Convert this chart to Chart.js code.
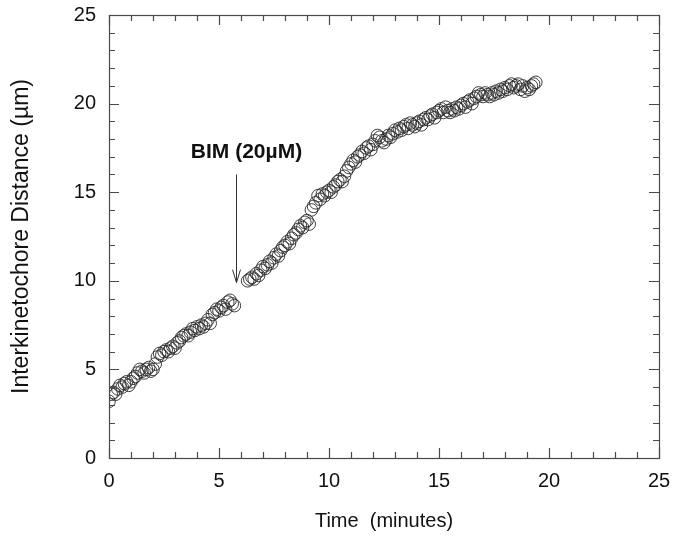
<!DOCTYPE html>
<html>
<head>
<meta charset="utf-8">
<script src="https://cdn.jsdelivr.net/npm/chart.js@4/dist/chart.umd.min.js"></script>
<style>
  html, body { margin: 0; padding: 0; background: #ffffff; }
  #wrap { width: 678px; height: 537px; position: relative; }
</style>
</head>
<body>
<div id="wrap"><canvas id="c" width="678" height="537"></canvas></div>
<script>
// ---- data ----
const timeMin = [
  0.0,0.1,0.2,0.3,0.4,0.5,0.6,0.7,0.8,0.9,
  1.0,1.1,1.2,1.3,1.4,1.5,1.6,1.7,1.8,1.9,
  2.0,2.1,2.2,2.3,2.4,2.5,2.6,2.7,2.8,2.9,
  3.0,3.1,3.2,3.3,3.4,3.5,3.6,3.7,3.8,3.9,
  4.0,4.1,4.2,4.3,4.4,4.5,4.6,4.7,4.8,4.9,
  5.0,5.1,5.2,5.3,5.4,5.5,5.6,5.7,
  6.3,6.4,6.5,6.6,6.7,6.8,6.9,
  7.0,7.1,7.2,7.3,7.4,7.5,7.6,7.7,7.8,7.9,
  8.0,8.1,8.2,8.3,8.4,8.5,8.6,8.7,8.8,8.9,
  9.0,9.1,9.2,9.3,9.4,9.5,9.6,9.7,9.8,9.9,
  10.0,10.1,10.2,10.3,10.4,10.5,10.6,10.7,10.8,10.9,
  11.0,11.1,11.2,11.3,11.4,11.5,11.6,11.7,11.8,11.9,
  12.0,12.1,12.2,12.3,12.4,12.5,12.6,12.7,12.8,12.9,
  13.0,13.1,13.2,13.3,13.4,13.5,13.6,13.7,13.8,13.9,
  14.0,14.1,14.2,14.3,14.4,14.5,14.6,14.7,14.8,14.9,
  15.0,15.1,15.2,15.3,15.4,15.5,15.6,15.7,15.8,15.9,
  16.0,16.1,16.2,16.3,16.4,16.5,16.6,16.7,16.8,16.9,
  17.0,17.1,17.2,17.3,17.4,17.5,17.6,17.7,17.8,17.9,
  18.0,18.1,18.2,18.3,18.4,18.5,18.6,18.7,18.8,18.9,
  19.0,19.1,19.2,19.3,19.4
];
const distanceUm = [
  3.2,3.6,3.7,3.6,3.9,4.1,4.0,4.2,4.3,4.1,
  4.3,4.5,4.6,4.8,5.0,4.9,4.8,5.0,5.1,4.9,
  5.0,5.3,5.7,5.9,5.8,6.0,6.1,6.0,6.2,6.3,
  6.2,6.5,6.6,6.8,6.9,7.0,6.9,7.1,7.3,7.2,
  7.4,7.3,7.5,7.4,7.6,7.8,7.6,8.1,8.2,8.4,
  8.3,8.5,8.6,8.4,8.8,8.9,8.7,8.6,
  10.0,10.1,10.2,10.1,10.4,10.3,10.6,
  10.8,10.7,10.9,11.1,11.0,11.3,11.5,11.4,11.7,11.9,
  12.0,12.2,12.1,12.4,12.6,12.7,12.9,13.1,13.0,13.3,
  13.4,13.2,14.0,14.2,14.4,14.8,14.6,14.9,14.8,15.0,
  15.1,15.0,15.3,15.4,15.6,15.7,15.6,15.9,16.2,16.4,
  16.6,16.8,16.7,17.0,17.1,17.3,17.2,17.5,17.6,17.4,
  17.7,17.9,18.2,18.1,17.9,17.8,18.0,18.2,18.1,18.3,
  18.5,18.4,18.6,18.5,18.7,18.8,18.6,18.9,18.8,18.7,
  18.9,19.0,18.8,19.1,19.2,19.1,19.3,19.4,19.2,19.5,
  19.6,19.7,19.5,19.8,19.6,19.5,19.7,19.6,19.8,19.7,
  19.9,20.0,19.8,20.1,20.2,20.0,20.3,20.4,20.6,20.5,
  20.4,20.6,20.5,20.4,20.6,20.5,20.7,20.6,20.8,20.7,
  20.9,20.8,21.0,21.1,20.9,21.0,21.1,20.8,21.0,20.7,
  20.9,20.8,21.0,21.1,21.2
];
const xTickLabels = [0, 5, 10, 15, 20, 25];
const yTickLabels = [0, 5, 10, 15, 20, 25];
const xMinorTicks = [0,1,2,3,4,5,6,7,8,9,10,11,12,13,14,15,16,17,18,19,20,21,22,23,24,25];
const yMinorTicks = [0,1,2,3,4,5,6,7,8,9,10,11,12,13,14,15,16,17,18,19,20,21,22,23,24,25];
const xTitle = 'Time  (minutes)';
const yTitle = 'Interkinetochore Distance (µm)';
const annotationText = 'BIM (20µM)';
const annotationArrow = { t: 5.75, yFrom: 16.0, yTo: 9.9 };
const annotationLabel = { t: 6.25, y: 17.25 };

const points = timeMin.map((t, i) => ({ x: t, y: distanceUm[i] }));

const FONT = '"Liberation Sans", Arial, sans-serif';
const AXIS_COLOR = '#4a4a4a';

const framePlugin = {
  id: 'frame',
  afterDatasetsDraw(chart) {
    const ctx = chart.ctx;
    const xs = chart.scales.x, ys = chart.scales.y;
    const a = chart.chartArea;
    ctx.save();
    ctx.strokeStyle = AXIS_COLOR;
    ctx.lineWidth = 1.2;
    ctx.strokeRect(Math.round(a.left) + 0.5, Math.round(a.top) + 0.5,
                   Math.round(a.right - a.left), Math.round(a.bottom - a.top));
    ctx.beginPath();
    xMinorTicks.forEach(v => {
      const px = Math.round(xs.getPixelForValue(v)) + 0.5;
      const len = (v % 5 === 0) ? 10 : 6;
      ctx.moveTo(px, a.bottom); ctx.lineTo(px, a.bottom - len);
      ctx.moveTo(px, a.top); ctx.lineTo(px, a.top + len);
    });
    yMinorTicks.forEach(v => {
      const py = Math.round(ys.getPixelForValue(v)) + 0.5;
      const len = (v % 5 === 0) ? 10 : 6;
      ctx.moveTo(a.left, py); ctx.lineTo(a.left + len, py);
      ctx.moveTo(a.right, py); ctx.lineTo(a.right - len, py);
    });
    ctx.stroke();

    // annotation arrow
    const ax = Math.round(xs.getPixelForValue(annotationArrow.t)) + 0.5;
    const ay1 = ys.getPixelForValue(annotationArrow.yFrom);
    const ay2 = ys.getPixelForValue(annotationArrow.yTo);
    ctx.strokeStyle = '#333';
    ctx.lineWidth = 1;
    ctx.beginPath();
    ctx.moveTo(ax, ay1); ctx.lineTo(ax, ay2);
    ctx.moveTo(ax - 4, ay2 - 13); ctx.lineTo(ax, ay2); ctx.lineTo(ax + 4, ay2 - 13);
    ctx.stroke();

    ctx.fillStyle = '#111';
    ctx.font = 'bold 21px ' + FONT;
    ctx.textAlign = 'center';
    ctx.textBaseline = 'middle';
    ctx.fillText(annotationText, xs.getPixelForValue(annotationLabel.t), ys.getPixelForValue(annotationLabel.y));
    ctx.restore();
  }
};

new Chart(document.getElementById('c'), {
  type: 'scatter',
  data: {
    datasets: [{
      data: points,
      pointStyle: 'circle',
      pointRadius: 6.3,
      pointHoverRadius: 6.3,
      backgroundColor: 'rgba(0,0,0,0)',
      borderColor: '#2a2a2a',
      borderWidth: 0.9
    }]
  },
  options: {
    responsive: false,
    animation: false,
    devicePixelRatio: 1,
    layout: { padding: { left: 0, right: 19, top: 15, bottom: 0 } },
    plugins: { legend: { display: false }, tooltip: { enabled: false } },
    scales: {
      x: {
        type: 'linear',
        min: 0, max: 25,
        afterFit(s) { s.height = 79; s.paddingLeft = 0; s.paddingRight = 0; },
        afterBuildTicks(s) { s.ticks = xTickLabels.map(v => ({ value: v })); },
        grid: { display: false, drawTicks: false },
        border: { display: false },
        ticks: { color: '#111', font: { family: FONT, size: 20 }, padding: 11, maxRotation: 0 },
        title: { display: true, text: xTitle, color: '#111', font: { family: FONT, size: 20 }, padding: { top: 6, bottom: 4 } }
      },
      y: {
        type: 'linear',
        min: 0, max: 25,
        afterFit(s) { s.width = 109; s.paddingTop = 0; s.paddingBottom = 0; },
        afterBuildTicks(s) { s.ticks = yTickLabels.map(v => ({ value: v })); },
        grid: { display: false, drawTicks: false },
        border: { display: false },
        ticks: { color: '#111', font: { family: FONT, size: 20 }, padding: 13 },
        title: { display: true, text: yTitle, color: '#111', font: { family: FONT, size: 23 }, padding: { top: 8, bottom: 0 } }
      }
    }
  },
  plugins: [framePlugin]
});
</script>
</body>
</html>
